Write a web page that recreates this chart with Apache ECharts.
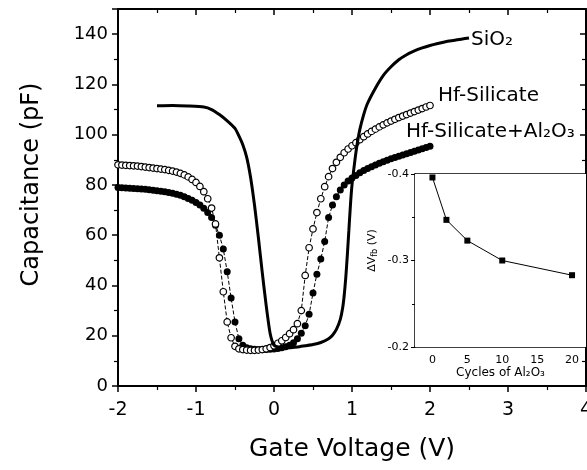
<!DOCTYPE html>
<html>
<head>
<meta charset="utf-8">
<script src="https://cdn.jsdelivr.net/npm/echarts/dist/echarts.min.js"></script>
<style>
  html, body { margin: 0; padding: 0; background: #fff; }
  #chart { width: 587px; height: 470px; }
</style>
</head>
<body>
<div id="chart"></div>
<script>
// Gate voltage sweep (V) shared by the two Hf-silicate C-V curves
const voltage = [
  -2.00, -1.95, -1.90, -1.85, -1.80, -1.75, -1.70, -1.65, -1.60, -1.55,
  -1.50, -1.45, -1.40, -1.35, -1.30, -1.25, -1.20, -1.15, -1.10, -1.05,
  -1.00, -0.95, -0.90, -0.85, -0.80, -0.75, -0.70, -0.65, -0.60, -0.55,
  -0.50, -0.45, -0.40, -0.35, -0.30, -0.25, -0.20, -0.15, -0.10, -0.05,
   0.00,  0.05,  0.10,  0.15,  0.20,  0.25,  0.30,  0.35,  0.40,  0.45,
   0.50,  0.55,  0.60,  0.65,  0.70,  0.75,  0.80,  0.85,  0.90,  0.95,
   1.00,  1.05,  1.10,  1.15,  1.20,  1.25,  1.30,  1.35,  1.40,  1.45,
   1.50,  1.55,  1.60,  1.65,  1.70,  1.75,  1.80,  1.85,  1.90,  1.95,
   2.00
];

// Capacitance (pF), Hf-silicate gate dielectric (open circles)
const capHfSilicate = [
  88.0, 87.9, 87.8, 87.7, 87.6, 87.5, 87.3, 87.1, 86.9, 86.7,
  86.5, 86.3, 86.1, 85.8, 85.5, 85.1, 84.6, 84.0, 83.2, 82.2,
  81.0, 79.4, 77.3, 74.5, 70.8, 64.5, 51.0, 37.5, 25.5, 19.2,
  15.8, 14.8, 14.5, 14.3, 14.2, 14.2, 14.3, 14.5, 14.8, 15.3,
  16.0, 17.0, 18.0, 19.3, 20.8, 22.4, 24.8, 30.0, 44.0, 55.0,
  62.5, 69.0, 74.5, 79.3, 83.3, 86.5, 89.0, 91.0, 92.8, 94.3,
  95.6, 96.8, 98.0, 99.2, 100.3, 101.3, 102.2, 103.1, 103.9, 104.7,
  105.4, 106.1, 106.8, 107.4, 108.0, 108.6, 109.2, 109.8, 110.4, 111.0,
  111.6
];

// Capacitance (pF), Hf-silicate + Al2O3 capping (filled circles)
const capHfSilicateAl2O3 = [
  79.0, 78.9, 78.8, 78.7, 78.6, 78.5, 78.4, 78.3, 78.1, 77.9,
  77.7, 77.5, 77.3, 77.0, 76.7, 76.3, 75.9, 75.3, 74.6, 73.9,
  73.0, 72.0, 70.7, 69.0, 67.0, 64.0, 60.0, 54.5, 45.5, 35.0,
  25.5, 18.8, 16.2, 15.2, 14.8, 14.6, 14.5, 14.5, 14.5, 14.6,
  14.7, 14.9, 15.2, 15.6, 16.2, 17.2, 18.8, 21.0, 24.0, 28.5,
  37.0, 44.5, 50.5, 57.5, 67.0, 72.0, 75.3, 78.0, 80.0, 81.6,
  82.8, 83.8, 84.8, 85.7, 86.5, 87.2, 87.9, 88.6, 89.2, 89.8,
  90.4, 90.9, 91.4, 91.9, 92.4, 92.9, 93.4, 93.9, 94.4, 94.9,
  95.4
];

// SiO2 reference capacitor (solid line)
const sio2Voltage = [
  -1.50, -1.30, -1.10, -0.90, -0.80, -0.70, -0.60, -0.50, -0.45, -0.40,
  -0.35, -0.30, -0.25, -0.20, -0.15, -0.10, -0.05,  0.00,  0.05,  0.10,
   0.20,  0.30,  0.40,  0.50,  0.60,  0.70,  0.75,  0.80,  0.85,  0.88,
   0.90,  0.92,  0.94,  0.96,  0.98,  1.00,  1.03,  1.06,  1.10,  1.15,
   1.20,  1.30,  1.40,  1.50,  1.60,  1.70,  1.80,  1.90,  2.00,  2.10,
   2.20,  2.30,  2.40,  2.50
];
const capSiO2 = [
  111.5, 111.6, 111.4, 111.0, 110.0, 108.0, 105.5, 102.5, 99.5, 96.0,
   91.0,  83.0,  72.0,  59.0,  45.0,  32.0,  21.0,  16.2,  15.5,  15.2,
   15.2,  15.5,  16.0,  16.5,  17.3,  18.8,  20.2,  22.5,  26.5,  31.0,
   36.0,  43.0,  52.0,  62.0,  72.0,  80.0,  88.0,  95.0, 102.0, 108.0,
  112.5, 118.5, 123.5, 127.0, 129.8, 131.8, 133.3, 134.5, 135.5, 136.3,
  137.0, 137.5, 138.0, 138.5
];

// Inset: flat-band voltage shift vs. number of Al2O3 ALD cycles
const cycles = [0, 2, 5, 10, 20];
const deltaVfb = [-0.396, -0.347, -0.323, -0.300, -0.283];

// Axis ranges and tick steps
const gateTicks = { min: -2, max: 4, step: 1 };
const capTicks = { min: 0, max: 150, step: 20 };
const cycleTicks = { min: -2.5, max: 22, step: 2.5 };
const vfbTicks = { min: -0.4, max: -0.2, step: 0.1 };

const FONT = 'DejaVu Sans';
const BLACK = '#000';

const pairs = (xs, ys) => xs.map((x, i) => [x, ys[i]]);

const chart = echarts.init(document.getElementById('chart'), null, { renderer: 'canvas' });

const frameLine = { show: true, onZero: false, lineStyle: { color: BLACK, width: 2 } };
const noSplit = { show: false };

const hfData = pairs(voltage, capHfSilicate);
const hfAlData = pairs(voltage, capHfSilicateAl2O3);

const option = {
  backgroundColor: '#fff',
  animation: false,
  textStyle: { fontFamily: FONT, color: BLACK },
  grid: [
    { left: 118, top: 9, width: 468, height: 377, outerBoundsMode: 'none', containLabel: false },
    { left: 415, top: 174, width: 171, height: 173, outerBoundsMode: 'none', containLabel: false,
      show: true, backgroundColor: '#fff', borderWidth: 0, z: 3 }
  ],
  xAxis: [
    {
      gridIndex: 0, type: 'value', position: 'bottom',
      min: gateTicks.min, max: gateTicks.max, interval: gateTicks.step,
      axisLine: frameLine,
      axisTick: { show: true, inside: false, length: 6, lineStyle: { color: BLACK, width: 1.5 } },
      minorTick: { show: true, splitNumber: 2, length: 4, lineStyle: { color: BLACK, width: 1.2 } },
      splitLine: noSplit, minorSplitLine: noSplit,
      axisLabel: { show: true, fontSize: 19, color: BLACK, fontFamily: FONT, margin: 15,
                   showMinLabel: true, showMaxLabel: true, hideOverlap: false },
      name: 'Gate Voltage (V)', nameLocation: 'middle', nameGap: 51,
      nameTextStyle: { fontSize: 25, color: BLACK, fontFamily: FONT }
    },
    {
      gridIndex: 0, type: 'value', position: 'top',
      min: gateTicks.min, max: gateTicks.max, interval: gateTicks.step,
      axisLine: frameLine,
      axisTick: { show: true, inside: true, length: 6, lineStyle: { color: BLACK, width: 1.5 } },
      minorTick: { show: true, splitNumber: 2, length: 4, lineStyle: { color: BLACK, width: 1.2 } },
      splitLine: noSplit, minorSplitLine: noSplit,
      axisLabel: { show: false }
    },
    {
      gridIndex: 1, type: 'value', position: 'bottom',
      min: cycleTicks.min, max: cycleTicks.max, interval: cycleTicks.step,
      axisLine: { show: true, onZero: false, lineStyle: { color: BLACK, width: 1.5 } },
      axisTick: { show: true, inside: true, length: 3, lineStyle: { color: BLACK, width: 1 } },
      splitLine: noSplit,
      axisLabel: {
        fontSize: 11, color: BLACK, fontFamily: FONT, margin: 8, hideOverlap: false,
        formatter: v => (v >= 0 && Math.abs(v % 5) < 1e-6) ? String(Math.round(v)) : ''
      },
      name: 'Cycles of Al₂O₃', nameLocation: 'middle', nameGap: 20,
      nameTextStyle: { fontSize: 12, color: BLACK, fontFamily: FONT }
    },
    {
      gridIndex: 1, type: 'value', position: 'top',
      min: cycleTicks.min, max: cycleTicks.max, interval: cycleTicks.step,
      axisLine: { show: true, onZero: false, lineStyle: { color: BLACK, width: 1.5 } },
      axisTick: { show: true, inside: true, length: 3, lineStyle: { color: BLACK, width: 1 } },
      splitLine: noSplit,
      axisLabel: { show: false }
    }
  ],
  yAxis: [
    {
      gridIndex: 0, type: 'value', position: 'left',
      min: capTicks.min, max: capTicks.max, interval: capTicks.step,
      axisLine: frameLine,
      axisTick: { show: true, inside: false, length: 6, lineStyle: { color: BLACK, width: 1.5 } },
      minorTick: { show: true, splitNumber: 2, length: 4, lineStyle: { color: BLACK, width: 1.2 } },
      splitLine: noSplit, minorSplitLine: noSplit,
      axisLabel: {
        fontSize: 18, color: BLACK, fontFamily: FONT, margin: 10,
        formatter: v => (v % capTicks.step === 0) ? String(v) : ''
      },
      name: 'Capacitance (pF)', nameLocation: 'middle', nameGap: 74, nameRotate: 90,
      nameTextStyle: { fontSize: 24, color: BLACK, fontFamily: FONT, padding: [0, 0, 0, 26] }
    },
    {
      gridIndex: 0, type: 'value', position: 'right',
      min: capTicks.min, max: capTicks.max, interval: capTicks.step,
      axisLine: frameLine,
      axisTick: { show: true, inside: true, length: 6, lineStyle: { color: BLACK, width: 1.5 } },
      minorTick: { show: true, splitNumber: 2, length: 4, lineStyle: { color: BLACK, width: 1.2 } },
      splitLine: noSplit, minorSplitLine: noSplit,
      axisLabel: { show: false }
    },
    {
      gridIndex: 1, type: 'value', position: 'left', inverse: true,
      min: vfbTicks.min, max: vfbTicks.max, interval: vfbTicks.step,
      axisLine: { show: true, onZero: false, lineStyle: { color: BLACK, width: 1.5 } },
      axisTick: { show: true, inside: false, length: 4, lineStyle: { color: BLACK, width: 1 } },
      minorTick: { show: true, splitNumber: 2, length: 3, lineStyle: { color: BLACK, width: 1 } },
      splitLine: noSplit, minorSplitLine: noSplit,
      axisLabel: { fontSize: 11, color: BLACK, fontFamily: FONT, margin: 6,
                   formatter: v => v.toFixed(1) },
      name: '{n|ΔV}{s|fb}{n| (V)}', nameLocation: 'middle', nameGap: 36, nameRotate: 90,
      nameTextStyle: {
        color: BLACK, fontFamily: FONT, padding: [0, 0, 0, 20],
        rich: {
          n: { fontSize: 11, fontFamily: FONT, color: BLACK, lineHeight: 14 },
          s: { fontSize: 8, fontFamily: FONT, color: BLACK, verticalAlign: 'bottom', padding: [4, 0, 0, 0] }
        }
      }
    },
    {
      gridIndex: 1, type: 'value', position: 'right', inverse: true,
      min: vfbTicks.min, max: vfbTicks.max, interval: vfbTicks.step,
      axisLine: { show: true, onZero: false, lineStyle: { color: BLACK, width: 2 } },
      axisTick: { show: false }, splitLine: noSplit, axisLabel: { show: false }
    }
  ],
  series: [
    // dashed guide lines through the measured points
    {
      name: 'Hf-Silicate+Al2O3', type: 'line', xAxisIndex: 0, yAxisIndex: 0,
      data: hfAlData, symbol: 'none',
      lineStyle: { color: BLACK, width: 1, type: 'dashed' },
      endLabel: {
        show: true, formatter: 'Hf-Silicate+Al₂O₃', distance: 5, offset: [-29, -14],
        fontSize: 20, color: BLACK, fontFamily: FONT
      },
      z: 2
    },
    {
      name: 'Hf-Silicate', type: 'line', xAxisIndex: 0, yAxisIndex: 0,
      data: hfData, symbol: 'none',
      lineStyle: { color: BLACK, width: 1, type: 'dashed' },
      endLabel: {
        show: true, formatter: 'Hf-Silicate', distance: 5, offset: [3, -10],
        fontSize: 20, color: BLACK, fontFamily: FONT
      },
      z: 2
    },
    // measured points
    {
      name: 'Hf-Silicate+Al2O3 points', type: 'scatter', xAxisIndex: 0, yAxisIndex: 0,
      data: hfAlData, symbol: 'circle', symbolSize: 7,
      itemStyle: { color: BLACK, opacity: 1 }, z: 3
    },
    {
      name: 'Hf-Silicate points', type: 'scatter', xAxisIndex: 0, yAxisIndex: 0,
      data: hfData, symbol: 'circle', symbolSize: 6.5,
      itemStyle: { color: '#fff', borderColor: BLACK, borderWidth: 1.2, opacity: 1 }, z: 4
    },
    {
      name: 'SiO2', type: 'line', xAxisIndex: 0, yAxisIndex: 0,
      data: pairs(sio2Voltage, capSiO2),
      symbol: 'none', smooth: 0.2,
      lineStyle: { color: BLACK, width: 3 },
      endLabel: {
        show: true, formatter: 'SiO₂', distance: 2, offset: [0, 2],
        fontSize: 20, color: BLACK, fontFamily: FONT
      },
      z: 5
    },
    {
      name: 'dVfb', type: 'line', xAxisIndex: 2, yAxisIndex: 2,
      data: pairs(cycles, deltaVfb),
      symbol: 'rect', symbolSize: 6, showAllSymbol: true,
      itemStyle: { color: BLACK },
      lineStyle: { color: BLACK, width: 1 },
      z: 6
    }
  ]
};

chart.setOption(option);
</script>
</body>
</html>
